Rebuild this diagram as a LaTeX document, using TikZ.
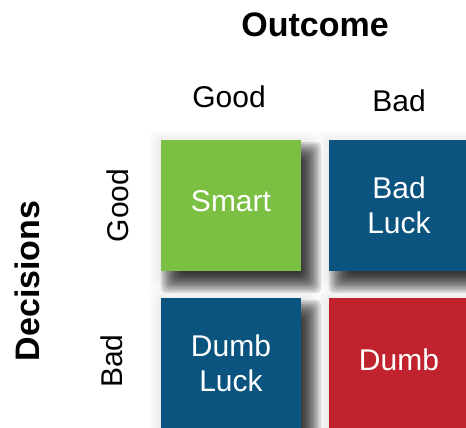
\documentclass[tikz,border=0pt]{standalone}
\usepackage{fontspec}
\setmainfont{Liberation Sans}
\usetikzlibrary{calc,backgrounds}

\definecolor{smartgreen}{RGB}{123,192,67}
\definecolor{luckblue}{RGB}{11,84,128}
\definecolor{dumbred}{RGB}{193,35,46}

\begin{document}
\begin{tikzpicture}[x=1pt,y=-1pt,
	cell/.style={minimum width=140pt,minimum height=131pt,inner sep=0pt,
		text=white,align=center,font=\fontsize{30}{35}\selectfont},
	head/.style={font=\fontsize{30}{34}\selectfont,anchor=base},
	axis/.style={font=\fontsize{34}{40}\selectfont\bfseries,anchor=base}]

\useasboundingbox (0,0) rectangle (466,428);

\node[cell,fill=smartgreen,text depth=8pt] (smart) at (231,205.5) {Smart};
\node[cell,fill=luckblue] (badluck) at (399,205.5) {Bad\\Luck};
\node[cell,fill=luckblue] (dumbluck) at (231,363.5) {Dumb\\Luck};
\node[cell,fill=dumbred,text depth=8pt] (dumb) at (399,363.5) {Dumb};

\begin{scope}[on background layer]
\foreach \n in {smart,badluck,dumbluck,dumb}{
	\foreach \e in {1,3,...,15}{
		\fill[black,opacity=0.012,rounded corners=8pt]
			($(\n.north west)+(3-\e,5-\e)$) rectangle ($(\n.south east)+(3+\e,5+\e)$);
	}
	\foreach \e in {-10,-8,...,10}{
		\fill[black,opacity=0.12,rounded corners=5pt]
			($(\n.north west)+(10-\e,12-\e)$) rectangle ($(\n.south east)+(10+\e,12+\e)$);
	}
}
\end{scope}

\node[axis] (outcome) at (315,37) {Outcome};
\node[head] (outgood) at (229,107) {Good};
\node[head] (outbad) at (399,111) {Bad};

\node[axis,rotate=90] (decisions) at (39,281) {Decisions};
\node[head,rotate=90] (decgood) at (128,205.5) {Good};
\node[head,rotate=90] (decbad) at (122,361) {Bad};

\end{tikzpicture}
\end{document}
